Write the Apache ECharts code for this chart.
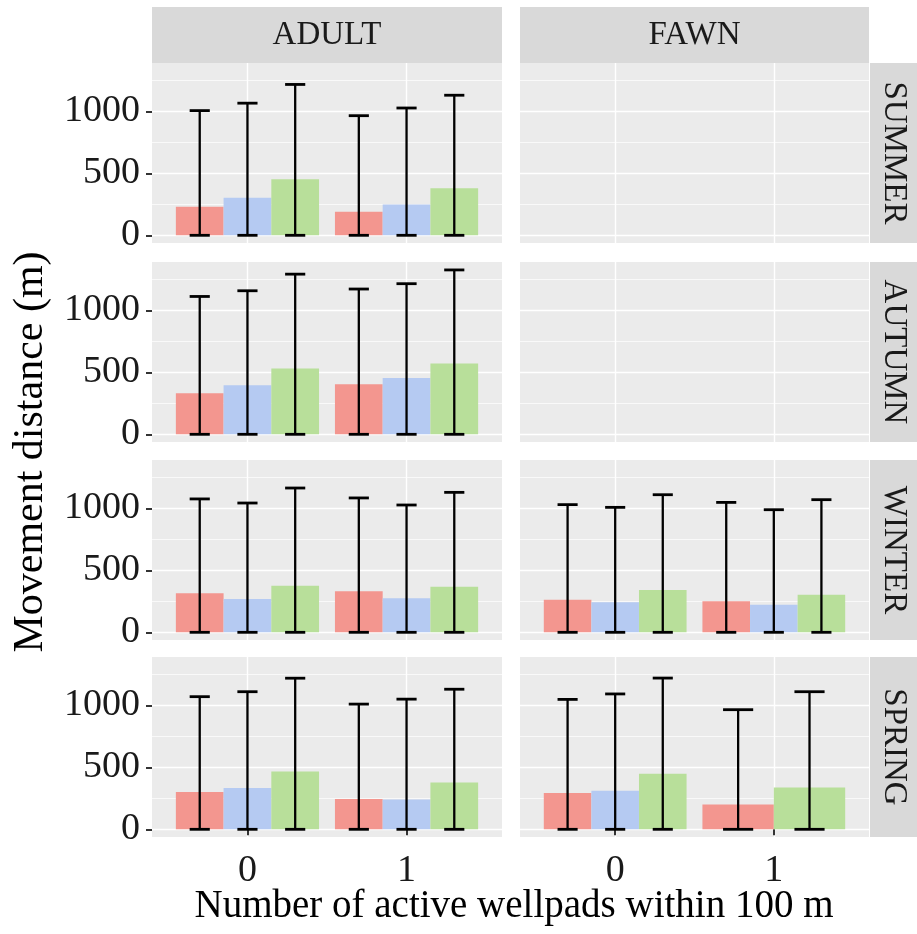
<!DOCTYPE html>
<html>
<head>
<meta charset="utf-8">
<script src="https://cdn.jsdelivr.net/npm/echarts@6/dist/echarts.min.js"></script>
<style>
  html, body { margin: 0; padding: 0; background: #ffffff; }
  #chart { width: 917px; height: 934px; }
</style>
</head>
<body>
<div id="chart"></div>
<script>
// Facets and categories
const seasons = ['SUMMER', 'AUTUMN', 'WINTER', 'SPRING'];
const ageClasses = ['ADULT', 'FAWN'];
const wellpadLevels = ['0', '1'];
const yTicks = [0, 500, 1000];
const yMinorTicks = [250, 750, 1250];

// Mean movement distance (m): one row per season, columns = wellpad level 0 / 1
const adultMeanRed   = [[230, 190], [332, 403], [315, 331], [300, 245]];
const adultMeanBlue  = [[303, 249], [395, 455], [269, 275], [333, 240]];
const adultMeanGreen = [[452, 379], [531, 572], [376, 368], [466, 378]];
const fawnMeanRed    = [[null, null], [null, null], [263, 250], [293, 200]];
const fawnMeanBlue   = [[null, null], [null, null], [242, 223], [312, null]];
const fawnMeanGreen  = [[null, null], [null, null], [342, 304], [448, 338]];

// Upper end of the error bars (m)
const adultUpperRed   = [[1006, 965], [1112, 1172], [1076, 1084], [1070, 1010]];
const adultUpperBlue  = [[1066, 1027], [1158, 1215], [1043, 1027], [1110, 1050]];
const adultUpperGreen = [[1217, 1130], [1292, 1326], [1164, 1129], [1219, 1130]];
const fawnUpperRed    = [[null, null], [null, null], [1030, 1048], [1048, 965]];
const fawnUpperBlue   = [[null, null], [null, null], [1008, 989], [1092, null]];
const fawnUpperGreen  = [[null, null], [null, null], [1110, 1070], [1220, 1110]];

// ---- layout & style ----
const FONT = 'Liberation Serif';
const groupColors = ['#F3968F', '#B5CAF2', '#B8DF9A'];
const panelLeft = [152, 520];
const panelWidth = [350, 349];
const panelTop = [63, 262, 460, 657];
const panelHeight = 180;
const stripTop = 7, stripHeight = 56;
const rightStripLeft = 870, rightStripWidth = 47;
const Y_MIN = -62, Y_MAX = 1390;
const X_MIN = 0.4, X_MAX = 2.6;
const DODGE = 0.9;
const ERR_WIDTH = 0.38;

const meansByAge = {
  ADULT: [adultMeanRed, adultMeanBlue, adultMeanGreen],
  FAWN: [fawnMeanRed, fawnMeanBlue, fawnMeanGreen]
};
const uppersByAge = {
  ADULT: [adultUpperRed, adultUpperBlue, adultUpperGreen],
  FAWN: [fawnUpperRed, fawnUpperBlue, fawnUpperGreen]
};
const xPositions = wellpadLevels.map((_, i) => i + 1);

// dodged bar geometry, ggplot-style: groups present at a position share the dodge width
function barGeometry(api) {
  const x = api.value(0), slot = api.value(1), n = api.value(2);
  const w = DODGE / n;
  const cx = x - DODGE / 2 + w * (slot + 0.5);
  return { cx, w, n };
}

function renderBar(params, api) {
  const g = barGeometry(api);
  const mean = api.value(3);
  const p0 = api.coord([g.cx - g.w / 2, 0]);
  const p1 = api.coord([g.cx + g.w / 2, mean]);
  return {
    type: 'rect',
    shape: { x: p0[0], y: p1[1], width: p1[0] - p0[0], height: p0[1] - p1[1] },
    style: { fill: groupColors[api.value(5)] }
  };
}

function renderErrorBar(params, api) {
  const g = barGeometry(api);
  const upper = api.value(4);
  const hw = ERR_WIDTH / g.n / 2;
  const top = api.coord([g.cx, upper]);
  const bot = api.coord([g.cx, 0]);
  const l = api.coord([g.cx - hw, 0])[0];
  const r = api.coord([g.cx + hw, 0])[0];
  const stem = { stroke: '#000', lineWidth: 2.3 };
  const cap = { stroke: '#000', lineWidth: 2.8 };
  return {
    type: 'group',
    children: [
      { type: 'line', shape: { x1: top[0], y1: top[1], x2: bot[0], y2: bot[1] }, style: stem },
      { type: 'line', shape: { x1: l, y1: top[1], x2: r, y2: top[1] }, style: cap },
      { type: 'line', shape: { x1: l, y1: bot[1], x2: r, y2: bot[1] }, style: cap }
    ]
  };
}

const grids = [], xAxes = [], yAxes = [], series = [], graphics = [];

seasons.forEach((season, s) => {
  ageClasses.forEach((age, a) => {
    const gi = grids.length;
    const isBottom = s === seasons.length - 1;
    const isLeft = a === 0;

    grids.push({
      left: panelLeft[a], top: panelTop[s], width: panelWidth[a], height: panelHeight,
      show: true, backgroundColor: '#EBEBEB', borderWidth: 0,
      containLabel: false, outerBoundsMode: 'none'
    });

    xAxes.push({
      gridIndex: gi, type: 'value', min: X_MIN, max: X_MAX,
      axisLine: { show: false },
      axisTick: { show: isBottom, customValues: xPositions, length: 6, lineStyle: { color: '#333', width: 2 } },
      axisLabel: {
        show: isBottom, customValues: xPositions,
        formatter: v => wellpadLevels[Math.round(v) - 1],
        fontFamily: FONT, fontSize: 38, color: '#1a1a1a', margin: 15
      },
      splitLine: { show: true, lineStyle: { color: '#ffffff', width: 1.4 } }
    });

    // major gridlines, ticks and labels
    yAxes.push({
      gridIndex: gi, type: 'value', min: Y_MIN, max: Y_MAX,
      axisLine: { show: false },
      axisTick: { show: isLeft, customValues: yTicks, length: 6, lineStyle: { color: '#333', width: 2 } },
      axisLabel: {
        show: isLeft, customValues: yTicks,
        formatter: v => String(v),
        fontFamily: FONT, fontSize: 38, color: '#1a1a1a', margin: 12
      },
      splitLine: { show: true, lineStyle: { color: '#ffffff', width: 1.4 } }
    });
    // minor gridlines
    yAxes.push({
      gridIndex: gi, type: 'value', min: Y_MIN, max: Y_MAX,
      axisLine: { show: false },
      axisTick: { show: false, customValues: yMinorTicks },
      axisLabel: { show: false, customValues: yMinorTicks },
      splitLine: { show: true, lineStyle: { color: '#ffffff', width: 0.7 } }
    });

    // bars + error bars
    const means = meansByAge[age];
    const uppers = uppersByAge[age];
    const items = [];
    wellpadLevels.forEach((lvl, c) => {
      const present = [0, 1, 2].filter(g => means[g][s][c] != null);
      present.forEach((g, slot) => {
        items.push([c + 1, slot, present.length, means[g][s][c], uppers[g][s][c], g]);
      });
    });
    if (items.length) {
      series.push({
        type: 'custom', name: age + ' ' + season, xAxisIndex: gi, yAxisIndex: 2 * gi,
        data: items, encode: { x: 0, y: 3 }, renderItem: renderBar, silent: true, z: 2
      });
      series.push({
        type: 'custom', name: age + ' ' + season + ' range', xAxisIndex: gi, yAxisIndex: 2 * gi,
        data: items, encode: { x: 0, y: 4 }, renderItem: renderErrorBar, silent: true, z: 3
      });
    }
  });

  // season strip on the right
  graphics.push({
    type: 'rect', left: rightStripLeft, top: panelTop[s],
    shape: { width: rightStripWidth, height: panelHeight },
    style: { fill: '#D9D9D9' }, silent: true
  });
  graphics.push({
    type: 'text', x: rightStripLeft + rightStripWidth / 2, y: panelTop[s] + panelHeight / 2,
    rotation: -Math.PI / 2,
    style: { text: season, fontFamily: FONT, fontSize: 33, fill: '#1a1a1a', align: 'center', verticalAlign: 'middle' },
    silent: true
  });
});

// age-class strips on top
ageClasses.forEach((age, a) => {
  graphics.push({
    type: 'rect', left: panelLeft[a], top: stripTop,
    shape: { width: panelWidth[a], height: stripHeight },
    style: { fill: '#D9D9D9' }, silent: true
  });
  graphics.push({
    type: 'text', x: panelLeft[a] + panelWidth[a] / 2, y: stripTop + stripHeight / 2,
    style: { text: age, fontFamily: FONT, fontSize: 33, fill: '#1a1a1a', align: 'center', verticalAlign: 'middle' },
    silent: true
  });
});

// axis titles
graphics.push({
  type: 'text', x: 514, y: 907,
  style: { text: 'Number of active wellpads within 100 m', fontFamily: FONT, fontSize: 39, fill: '#000', align: 'center', verticalAlign: 'middle' },
  silent: true
});
graphics.push({
  type: 'text', x: 31, y: 452, rotation: Math.PI / 2,
  style: { text: 'Movement distance (m)', fontFamily: FONT, fontSize: 42, fill: '#000', align: 'center', verticalAlign: 'middle' },
  silent: true
});

const chart = echarts.init(document.getElementById('chart'), null, { renderer: 'canvas' });
chart.setOption({
  animation: false,
  backgroundColor: '#ffffff',
  grid: grids,
  xAxis: xAxes,
  yAxis: yAxes,
  series: series,
  graphic: { elements: graphics }
});
</script>
</body>
</html>
